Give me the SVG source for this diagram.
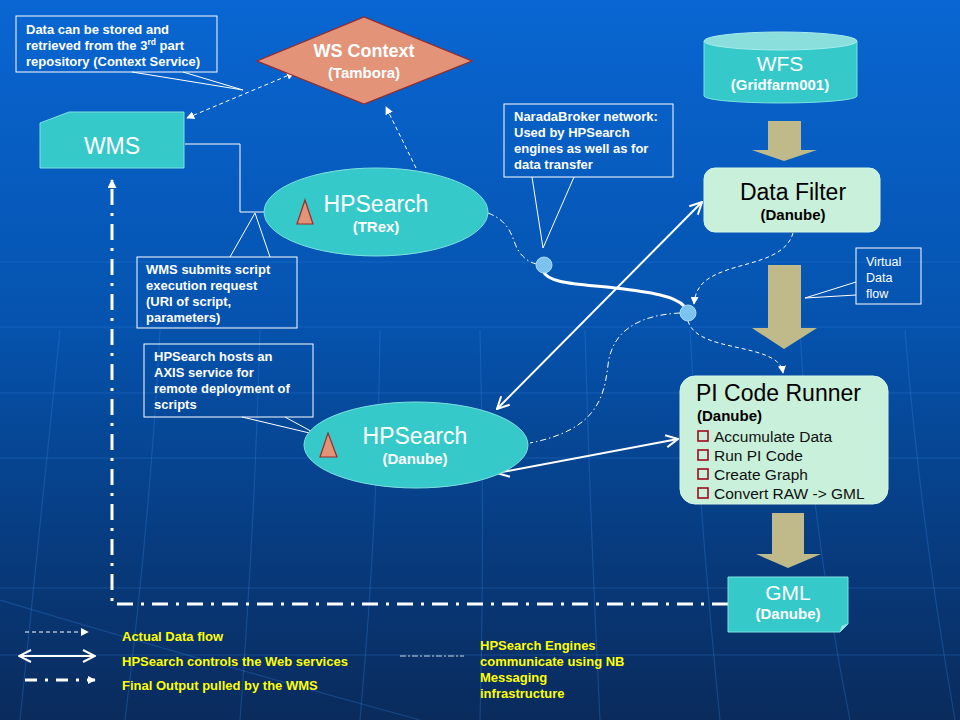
<svg xmlns="http://www.w3.org/2000/svg" width="960" height="720" viewBox="0 0 960 720">
<defs>
<linearGradient id="bg" x1="0" y1="0" x2="0" y2="1">
<stop offset="0" stop-color="#0966D2"/>
<stop offset="0.45" stop-color="#0553AE"/>
<stop offset="0.75" stop-color="#073C80"/>
<stop offset="1" stop-color="#0A2B5C"/>
</linearGradient>
<marker id="tri" viewBox="0 0 10 10" refX="9" refY="5" markerWidth="8" markerHeight="8" markerUnits="userSpaceOnUse" orient="auto-start-reverse">
<path d="M0,0 L10,5 L0,10 Z" fill="#FFFFFF"/>
</marker>
<marker id="triBig" viewBox="0 0 10 10" refX="9" refY="5" markerWidth="9" markerHeight="9" markerUnits="userSpaceOnUse" orient="auto">
<path d="M0,0 L10,5 L0,10 Z" fill="#FFFFFF"/>
</marker>
<marker id="openV" viewBox="0 0 14 14" refX="13" refY="7" markerWidth="14" markerHeight="14" markerUnits="userSpaceOnUse" orient="auto-start-reverse">
<path d="M1,1 L13,7 L1,13" fill="none" stroke="#FFFFFF" stroke-width="2"/>
</marker>
</defs>
<style>
text{font-family:"Liberation Sans",Arial,sans-serif}
.call{fill:none;stroke:#FFFFFF;stroke-width:1}
.ct{fill:#FFFFFF;font-size:13px;font-weight:bold}
.yl{fill:#FFFF00;font-size:13px;font-weight:bold}
.big{fill:#FFFFFF;font-size:23px;text-anchor:middle}
.sub{fill:#FFFFFF;font-size:15px;font-weight:bold;text-anchor:middle}
.turq{fill:#36C9CA;stroke:#7FE0E0;stroke-width:1}
.mint{fill:#C8F0DA;stroke:#D8F6E6;stroke-width:1}
.salmon{fill:#E39378;stroke:#9A2A2A;stroke-width:1.2}
.blk{fill:#C0BA8A}
.dash{fill:none;stroke:#FFFFFF;stroke-width:1;stroke-dasharray:4 3}
.dashdot{fill:none;stroke:#FFFFFF;stroke-width:1;stroke-dasharray:6 3 1.5 3}
.solid{fill:none;stroke:#FFFFFF;stroke-width:2}
.grid{fill:none;stroke:#3A8CE8;stroke-width:1.2;opacity:0.28}
.nb{fill:#7CC4EF;stroke:#A8DAF6;stroke-width:1}
.chk{fill:none;stroke:#9E0A1E;stroke-width:1.6}
.item{fill:#111111;font-size:15.5px}
</style>
<rect x="0" y="0" width="960" height="720" fill="url(#bg)"/>
<g id="background-grid">
<path class="grid" d="M0 262 H960 M0 327 H960 M0 393 H960 M0 458 H960 M0 588 H960 M0 655 H960"/>
<path class="grid" d="M60 330 Q40 520 20 720 M160 330 Q150 520 125 720 M260 330 Q255 520 240 720 M380 330 Q378 520 360 720 M480 330 Q485 520 480 720 M585 330 Q590 520 600 720 M690 330 Q700 520 720 720 M800 330 Q810 520 850 720 M905 330 Q920 520 955 720"/>
<path class="grid" d="M0 600 Q200 660 420 720"/>
</g>
<g id="connectors">
<path class="dash" d="M187 118 L294 73" marker-start="url(#tri)" marker-end="url(#tri)"/>
<path class="dash" d="M416 168 L386 107" marker-end="url(#tri)"/>
<path fill="none" stroke="#FFFFFF" stroke-width="1" d="M185 144 H240 V212 H298" marker-end="url(#tri)"/>
<path class="dashdot" d="M488 213 C512 222 512 240 518 250 C523 258 530 263 537 264"/>
<path fill="none" stroke="#FFFFFF" stroke-width="3" d="M543 271 C548 284 580 284 615 288 C650 292 675 296 684 306"/>
<path class="dashdot" d="M680 313 C640 315 612 330 608 365 C604 400 595 430 530 443"/>
<path class="dash" d="M793 233 C785 262 740 262 715 275 C700 282 695 292 694 304" marker-end="url(#tri)"/>
<path class="dash" d="M688 321 C695 345 740 345 765 355 C778 360 782 366 783 373" marker-end="url(#tri)"/>
<path class="solid" d="M497 409 L702 202" marker-start="url(#openV)" marker-end="url(#openV)"/>
<path class="solid" d="M497 473 L678 439" marker-start="url(#openV)" marker-end="url(#openV)"/>
<path fill="none" stroke="#FFFFFF" stroke-width="3" stroke-dasharray="16 8 3 8" d="M728 604 H112 V180" marker-end="url(#triBig)"/>
</g>
<g id="callout-context">
<rect class="call" x="16" y="16" width="201" height="56"/>
<path class="call" d="M132 72 L243 90 L183 72"/>
<text class="ct" x="26" y="34">Data can be stored and</text>
<text class="ct" x="26" y="50">retrieved from the 3<tspan font-size="8.5" dy="-5">rd</tspan><tspan dy="5"> part</tspan></text>
<text class="ct" x="26" y="66">repository (Context Service)</text>
</g>
<g id="ws-context">
<path class="salmon" d="M257 61 L364 17 L472 61 L364 104 Z"/>
<text x="364" y="57" fill="#FFFFFF" font-size="18px" font-weight="bold" text-anchor="middle">WS Context</text>
<text class="sub" x="364" y="78">(Tambora)</text>
</g>
<g id="wms">
<path class="turq" d="M40 123 L69 112 H184 V168 H40 Z"/>
<text class="big" x="112" y="154">WMS</text>
</g>
<g id="hpsearch-trex">
<ellipse class="turq" cx="376" cy="212" rx="112" ry="44"/>
<path class="salmon" d="M297 224 L313 224 L305 200 Z"/>
<text class="big" x="376" y="212">HPSearch</text>
<text class="sub" x="376" y="232">(TRex)</text>
</g>
<g id="callout-wms">
<rect class="call" x="137" y="257" width="160" height="71"/>
<path class="call" d="M230 257 L255 213 L270 257"/>
<text class="ct" x="146" y="274">WMS submits script</text>
<text class="ct" x="146" y="290">execution request</text>
<text class="ct" x="146" y="306">(URI of script,</text>
<text class="ct" x="146" y="322">parameters)</text>
</g>
<g id="callout-narada">
<rect class="call" x="504" y="104" width="169" height="73"/>
<path class="call" d="M532 177 L543 248 L574 177"/>
<text class="ct" x="514" y="121">NaradaBroker network:</text>
<text class="ct" x="514" y="137">Used by HPSearch</text>
<text class="ct" x="514" y="153">engines as well as for</text>
<text class="ct" x="514" y="169">data transfer</text>
</g>
<g id="nb-node-1">
<circle class="nb" cx="544" cy="265" r="8"/>
</g>
<g id="nb-node-2">
<circle class="nb" cx="688" cy="313" r="8"/>
</g>
<g id="wfs">
<path class="turq" d="M704 41 V96 A76.5 7 0 0 0 857 96 V41"/>
<ellipse cx="780.5" cy="41" rx="76.5" ry="9" fill="#8ADFDD" stroke="#A8ECEC" stroke-width="1"/>
<text x="780" y="71" fill="#FFFFFF" font-size="21px" text-anchor="middle">WFS</text>
<text class="sub" x="780" y="90">(Gridfarm001)</text>
</g>
<g id="arrow-wfs-filter">
<path class="blk" d="M768 121 H801 V150 H817 L784 161 L752 150 H768 Z"/>
</g>
<g id="data-filter">
<rect class="mint" x="704" y="168" width="176" height="64" rx="11"/>
<text x="793" y="200" fill="#000000" font-size="23px" text-anchor="middle">Data Filter</text>
<text x="793" y="220" fill="#000000" font-size="15px" font-weight="bold" text-anchor="middle">(Danube)</text>
</g>
<g id="arrow-filter-runner">
<path class="blk" d="M768 265 H801 V328 H817 L784 349 L752 328 H768 Z"/>
</g>
<g id="callout-virtual">
<rect class="call" x="856" y="248" width="65" height="56"/>
<path class="call" d="M856 282 L805 298 L856 295"/>
<text x="866" y="266" fill="#FFFFFF" font-size="12.5px">Virtual</text>
<text x="866" y="282" fill="#FFFFFF" font-size="12.5px">Data</text>
<text x="866" y="298" fill="#FFFFFF" font-size="12.5px">flow</text>
</g>
<g id="callout-axis">
<rect class="call" x="144" y="344" width="169" height="73"/>
<path class="call" d="M242 417 L318 435 L285 417"/>
<text class="ct" x="154" y="361">HPSearch hosts an</text>
<text class="ct" x="154" y="377">AXIS service for</text>
<text class="ct" x="154" y="393">remote deployment of</text>
<text class="ct" x="154" y="409">scripts</text>
</g>
<g id="hpsearch-danube">
<ellipse class="turq" cx="416" cy="445" rx="112" ry="43"/>
<path class="salmon" d="M320 457 L337 457 L328 433 Z"/>
<text class="big" x="415" y="444">HPSearch</text>
<text class="sub" x="415" y="464">(Danube)</text>
</g>
<g id="pi-code-runner">
<rect class="mint" x="680" y="376" width="208" height="128" rx="15"/>
<text x="696" y="401" fill="#000000" font-size="23px">PI Code Runner</text>
<text x="697" y="421" fill="#000000" font-size="15px" font-weight="bold">(Danube)</text>
<rect class="chk" x="698" y="431" width="10" height="10"/>
<rect class="chk" x="698" y="450" width="10" height="10"/>
<rect class="chk" x="698" y="469" width="10" height="10"/>
<rect class="chk" x="698" y="488" width="10" height="10"/>
<text class="item" x="714" y="442">Accumulate Data</text>
<text class="item" x="714" y="461">Run PI Code</text>
<text class="item" x="714" y="480">Create Graph</text>
<text class="item" x="714" y="499">Convert RAW -&gt; GML</text>
</g>
<g id="arrow-runner-gml">
<path class="blk" d="M772 513 H804 V554 H821 L788 568 L756 554 H772 Z"/>
</g>
<g id="gml">
<path class="turq" d="M728 577 H848 V624 L840 632 H728 Z"/>
<path d="M840 632 L842 626 L848 624" fill="#9CE6E6" stroke="#7FE0E0" stroke-width="1"/>
<text x="788" y="600" fill="#FFFFFF" font-size="21px" text-anchor="middle">GML</text>
<text class="sub" x="788" y="619">(Danube)</text>
</g>
<g id="legend">
<path class="dash" d="M25 632 H88" marker-end="url(#tri)"/>
<path class="solid" d="M19 656 H95" marker-start="url(#openV)" marker-end="url(#openV)"/>
<path fill="none" stroke="#FFFFFF" stroke-width="3" stroke-dasharray="12 8 3 8" d="M25 680 H95" marker-end="url(#tri)"/>
<path fill="none" stroke="#FFFFFF" stroke-width="1" stroke-dasharray="6 2 2 2" opacity="0.8" d="M400 656 H464"/>
<text class="yl" x="122" y="641">Actual Data flow</text>
<text class="yl" x="122" y="666">HPSearch controls the Web services</text>
<text class="yl" x="122" y="690">Final Output pulled by the WMS</text>
<text class="yl" x="480" y="650">HPSearch Engines</text>
<text class="yl" x="480" y="666">communicate using NB</text>
<text class="yl" x="480" y="682">Messaging</text>
<text class="yl" x="480" y="698">infrastructure</text>
</g>
</svg>
